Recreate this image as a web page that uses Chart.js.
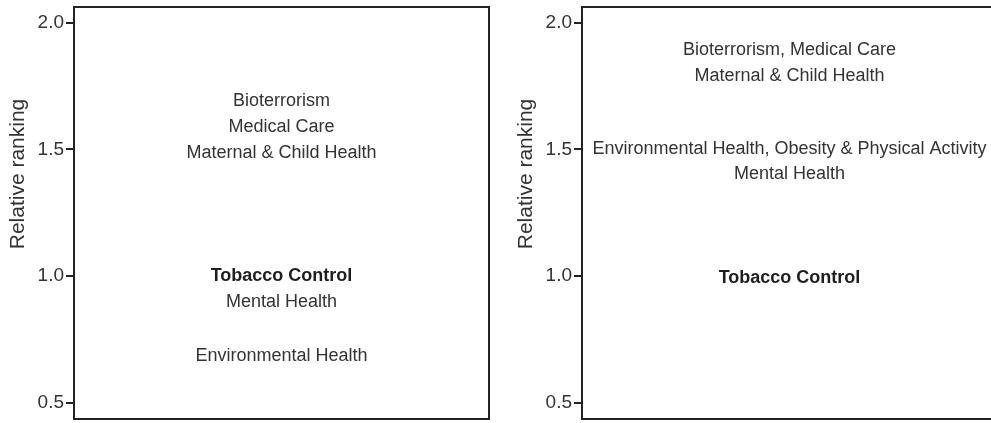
<!DOCTYPE html>
<html>
<head>
<meta charset="utf-8">
<script src="https://cdn.jsdelivr.net/npm/chart.js@4.4.1/dist/chart.umd.min.js"></script>
<style>
  html, body { margin: 0; padding: 0; background: #fff; overflow: hidden; }
  #wrap { position: relative; width: 991px; height: 423px; overflow: hidden; }
  .panel { position: absolute; top: 0; width: 491px; height: 423px; }
</style>
</head>
<body>
<div id="wrap">
  <div class="panel" style="left:0"><canvas id="chartLeft"></canvas></div>
  <div class="panel" style="left:508px"><canvas id="chartRight"></canvas></div>
</div>
<script>
// values
const yTicks = [0.5, 1.0, 1.5, 2.0];
const yMin = 0.436, yMax = 2.062;
const axisTitle = 'Relative ranking';

const leftLabels = ['Bioterrorism', 'Medical Care', 'Maternal & Child Health', 'Tobacco Control', 'Mental Health', 'Environmental Health'];
const leftValues = [1.692, 1.589, 1.487, 1.0, 0.899, 0.684];

const rightLabels = ['Bioterrorism, Medical Care', 'Maternal & Child Health', 'Environmental Health, Obesity & Physical Activity', 'Mental Health', 'Tobacco Control'];
const rightValues = [1.892, 1.790, 1.500, 1.403, 0.991];

const highlighted = 'Tobacco Control';
const FONT = "'Liberation Sans', Arial, sans-serif";

// box around the plot + the text marks + rotated axis title
const rankingPlugin = {
  id: 'ranking',
  afterDatasetsDraw(chart) {
    const ctx = chart.ctx;
    const a = chart.chartArea;
    ctx.save();
    ctx.strokeStyle = '#222';
    ctx.lineWidth = 2;
    ctx.strokeRect(a.left, a.top, a.right - a.left, a.bottom - a.top);

    const labels = chart.data.labels;
    const meta = chart.getDatasetMeta(0);
    ctx.textAlign = 'center';
    ctx.textBaseline = 'middle';
    meta.data.forEach((pt, i) => {
      const bold = labels[i] === highlighted;
      ctx.font = (bold ? 'bold ' : '') + '18px ' + FONT;
      ctx.fillStyle = bold ? '#1e1e1e' : '#333';
      ctx.fillText(labels[i], pt.x, pt.y);
    });

    ctx.translate(18, 174);
    ctx.rotate(-Math.PI / 2);
    ctx.font = '21px ' + FONT;
    ctx.fillStyle = '#333';
    ctx.fillText(axisTitle, 0, 0);
    ctx.restore();
  }
};

function makeChart(id, labels, values) {
  return new Chart(document.getElementById(id), {
    type: 'scatter',
    data: {
      labels: labels,
      datasets: [{
        data: values.map(v => ({ x: 0.5, y: v })),
        pointRadius: 0,
        pointHoverRadius: 0
      }]
    },
    options: {
      responsive: true,
      maintainAspectRatio: false,
      animation: false,
      events: [],
      layout: { padding: { top: 7, bottom: 4, right: 2, left: 0 } },
      plugins: { legend: { display: false }, tooltip: { enabled: false } },
      scales: {
        x: { type: 'linear', min: 0, max: 1, display: false },
        y: {
          type: 'linear',
          min: yMin,
          max: yMax,
          afterFit(scale) {
            scale.width = 74;
            scale.paddingTop = 0;
            scale.paddingBottom = 0;
          },
          afterBuildTicks(scale) { scale.ticks = yTicks.map(v => ({ value: v })); },
          border: { display: false },
          grid: { display: true, drawOnChartArea: false, drawTicks: true, tickLength: 8, color: '#222', lineWidth: 2 },
          ticks: {
            padding: 2,
            color: '#333',
            font: { family: FONT, size: 19 },
            callback: v => v.toFixed(1)
          }
        }
      }
    },
    plugins: [rankingPlugin]
  });
}

makeChart('chartLeft', leftLabels, leftValues);
makeChart('chartRight', rightLabels, rightValues);
</script>
</body>
</html>
